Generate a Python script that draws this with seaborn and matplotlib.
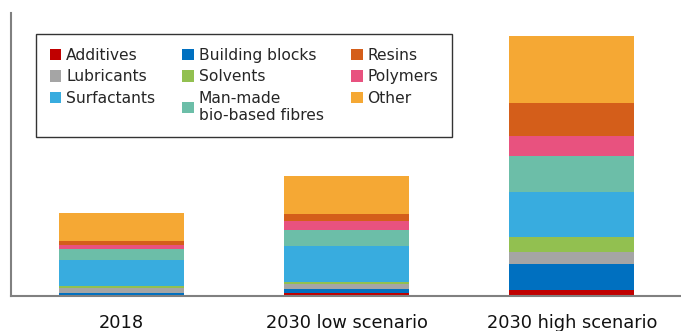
import matplotlib
matplotlib.use("Agg")
import matplotlib.pyplot as plt
from matplotlib.patches import Patch
import seaborn as sns
import numpy as np

categories = ["2018", "2030 low scenario", "2030 high scenario"]
series_names = ["Additives", "Building blocks", "Lubricants", "Solvents", "Surfactants",
                "Man-made\nbio-based fibres", "Polymers", "Resins", "Other"]
additives = [1.3, 2.7, 6.3]
building_blocks = [2.0, 4.6, 25.4]
lubricants = [4.7, 5.0, 12.6]
solvents = [2.0, 1.4, 14.7]
surfactants = [26.3, 36.6, 45.3]
fibres = [10.4, 16.0, 35.4]
polymers = [4.0, 8.7, 20.0]
resins = [4.3, 7.3, 33.6]
other = [28.3, 38.0, 66.7]
colors = ["#C00000", "#0070C0", "#A5A5A5", "#92C050", "#38ACDF",
          "#6CBEA8", "#E8527F", "#D45E1A", "#F5A834"]

series = [additives, building_blocks, lubricants, solvents, surfactants,
          fibres, polymers, resins, other]

sns.set_style("white")
plt.rcParams['font.family'] = ['DejaVu Sans']

fig = plt.figure(figsize=(6.81, 3.31), dpi=100)
ax = fig.add_axes([11/681, 35/331, 669/681, 283/331])

bottom = np.zeros(len(categories))
for name, vals, col in zip(series_names, series, colors):
    sns.barplot(x=categories, y=vals, bottom=bottom, color=col, width=0.554,
                saturation=1, ax=ax, edgecolor="none", linewidth=0)
    bottom = bottom + np.array(vals)

ax.set_xlim(-0.49, 2.48)
ax.set_ylim(0, 283)
ax.set_yticks([])
ax.tick_params(axis='x', length=0, pad=13, labelsize=12.8, colors="#111111")
for s in ["top", "right"]:
    ax.spines[s].set_visible(False)
for s in ["left", "bottom"]:
    ax.spines[s].set_color("#808080")
    ax.spines[s].set_linewidth(1.5)

# column-major ordering for a 3-column legend
leg_order = [0, 2, 4, 1, 3, 5, 7, 6, 8]
handles = [Patch(facecolor=colors[i], edgecolor='none') for i in leg_order]
labels = [series_names[i] for i in leg_order]
leg = ax.legend(handles, labels, ncol=3, loc="upper left",
                bbox_to_anchor=(0.037, 0.926), borderaxespad=0,
                fancybox=False, frameon=True, fontsize=11.2,
                handlelength=0.75, handleheight=0.75, handletextpad=0.3,
                columnspacing=1.75, labelspacing=0.42, borderpad=0.9)
leg.get_frame().set_edgecolor("black")
leg.get_frame().set_linewidth(1.0)

fig.savefig("out.png", dpi=100)
